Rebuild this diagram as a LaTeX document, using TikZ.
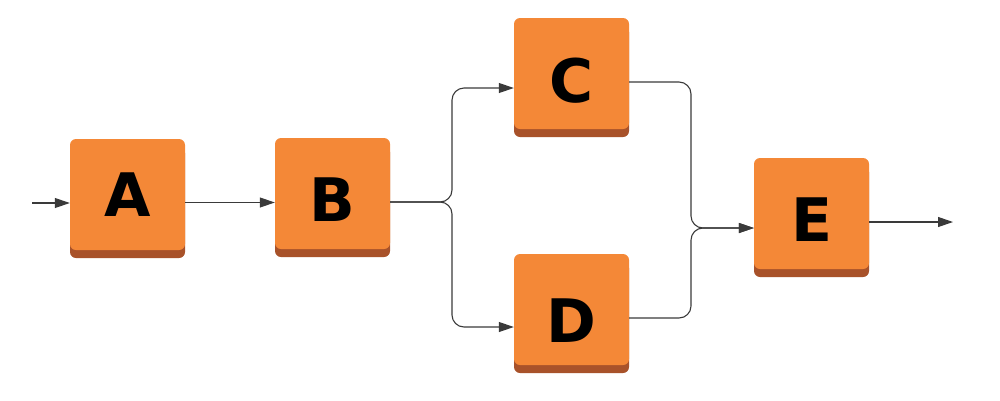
\documentclass[tikz,border=0pt]{standalone}
\usepackage{fontspec}
\setmainfont{DejaVu Sans}
\usetikzlibrary{arrows.meta,calc,shadows}
\definecolor{boxc}{HTML}{F48837}
\definecolor{shadc}{HTML}{A8522A}
\definecolor{linec}{HTML}{3A3A3A}
\newcommand{\lowered}[2]{\vphantom{#2}\smash{\raisebox{-#1pt}{#2}}}
\begin{document}
\begin{tikzpicture}[x=1pt,y=-1pt,
  blk/.style={rectangle,rounded corners=6pt,fill=boxc,minimum width=115pt,minimum height=111pt,
    inner sep=0pt,font=\fontsize{60}{60}\selectfont\bfseries,text=black,
    general shadow={fill=shadc,shadow yshift=-8pt}},
  conn/.style={draw=linec,line width=1.1pt,-{Triangle[length=15pt,width=10pt]},fill=none},
  bent/.style={conn,rounded corners=12pt}]
\useasboundingbox (0,0) rectangle (1000,400);
\node[blk] (A) at (127.5,194.5) {A};
\node[blk] (B) at (332.5,193.5) {\lowered{6.5}{B}};
\node[blk] (C) at (571.5,73.5) {\lowered{7}{C}};
\node[blk] (D) at (571.5,309.5) {\lowered{11.5}{D}};
\node[blk] (E) at (811.5,213.5) {\lowered{6}{E}};
\coordinate (in) at (32,203);
\coordinate (out) at (953,222);
\coordinate (aout) at ($(A.east)+(0,8)$);
\draw[conn] (in) -- (in -| A.west);
\draw[conn] (aout) -- (aout -| B.west);
\draw[bent] ($(B.east)+(0,8.5)$) -- (452,202) -- (452,88) -- ($(C.west)+(0,14.5)$);
\draw[bent] ($(B.east)+(0,8.5)$) -- (452,202) -- (452,327) -- ($(D.west)+(0,17.5)$);
\draw[bent] ($(C.east)+(0,8.5)$) -- (691,82) -- (691,228) -- ($(E.west)+(0,14.5)$);
\draw[bent] ($(D.east)+(0,8.5)$) -- (691,318) -- (691,228) -- ($(E.west)+(0,14.5)$);
\draw[conn] ($(E.east)+(0,8.5)$) -- (out);
\end{tikzpicture}
\end{document}
